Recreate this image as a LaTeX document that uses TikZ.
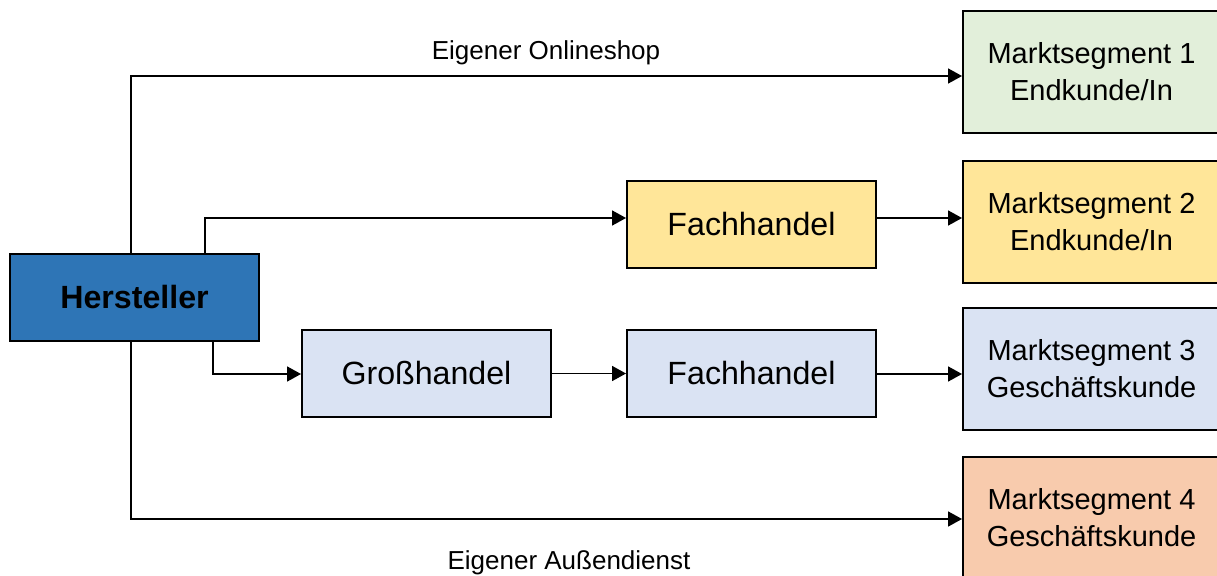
\documentclass[tikz,border=0pt]{standalone}
\usepackage{fontspec}
\setmainfont{Liberation Sans}
\usetikzlibrary{arrows.meta}

\definecolor{herstblue}{HTML}{2E75B6}
\definecolor{segGreen}{HTML}{E2EFDA}
\definecolor{segYellow}{HTML}{FFE699}
\definecolor{segBlue}{HTML}{DAE3F3}
\definecolor{segOrange}{HTML}{F8CBAD}

\begin{document}
\begin{tikzpicture}%
    [x=0.02cm, y=-0.02cm,
    box/.style={rectangle, draw=black, line width=1.1pt, align=center,
        minimum width=4.98cm, minimum height=1.74cm, inner sep=0pt,
        font=\fontsize{18.3}{22}\selectfont},
    segment/.style={box, minimum width=5.14cm, minimum height=2.44cm,
        font=\fontsize{16.5}{21}\selectfont},
    arr/.style={line width=1.1pt, -{Triangle[length=8pt, width=8.5pt]}},
    channel/.style={font=\fontsize{14.8}{18}\selectfont}]

    \useasboundingbox (0,0) rectangle (1217,575);

    \node [box, fill=herstblue, font=\fontsize{18.3}{22}\selectfont\bfseries] (hersteller) at (134.5, 297.5) {Hersteller};

    \node [box, fill=segYellow] (fach1) at (751.5, 224.5) {Fachhandel};
    \node [box, fill=segBlue]   (gross) at (426.5, 373.5) {Großhandel};
    \node [box, fill=segBlue]   (fach2) at (751.5, 373.5) {Fachhandel};

    \node [segment, fill=segGreen]  (ms1) at (1091.5, 72)  {Marktsegment 1\\Endkunde/In};
    \node [segment, fill=segYellow] (ms2) at (1091.5, 222) {Marktsegment 2\\Endkunde/In};
    \node [segment, fill=segBlue]   (ms3) at (1091.5, 369) {Marktsegment 3\\Geschäftskunde};
    \node [segment, fill=segOrange] (ms4) at (1091.5, 518) {Marktsegment 4\\Geschäftskunde};

    % bends of the channels
    \coordinate (online) at (131, 76);
    \coordinate (fachweg) at (205, 218);
    \coordinate (grossweg) at (213, 374);
    \coordinate (aussen) at (131, 519);

    \draw [arr] (hersteller.north -| online) |- (ms1.west |- online);
    \draw [arr] (hersteller.north -| fachweg) |- (fach1.west |- fachweg);
    \draw [arr] (fach1.east |- fachweg) -- (ms2.west |- fachweg);
    \draw [arr] (hersteller.south -| grossweg) |- (gross.west |- grossweg);
    \draw [arr] (gross) -- (fach2);
    \draw [arr] (fach2.east |- grossweg) -- (ms3.west |- grossweg);
    \draw [arr] (hersteller.south -| aussen) |- (ms4.west |- aussen);

    \node [channel] (onlinelabel) at (546, 53) {Eigener Onlineshop};
    \node [channel] (aussenlabel) at (569, 563) {Eigener Außendienst};
\end{tikzpicture}
\end{document}
